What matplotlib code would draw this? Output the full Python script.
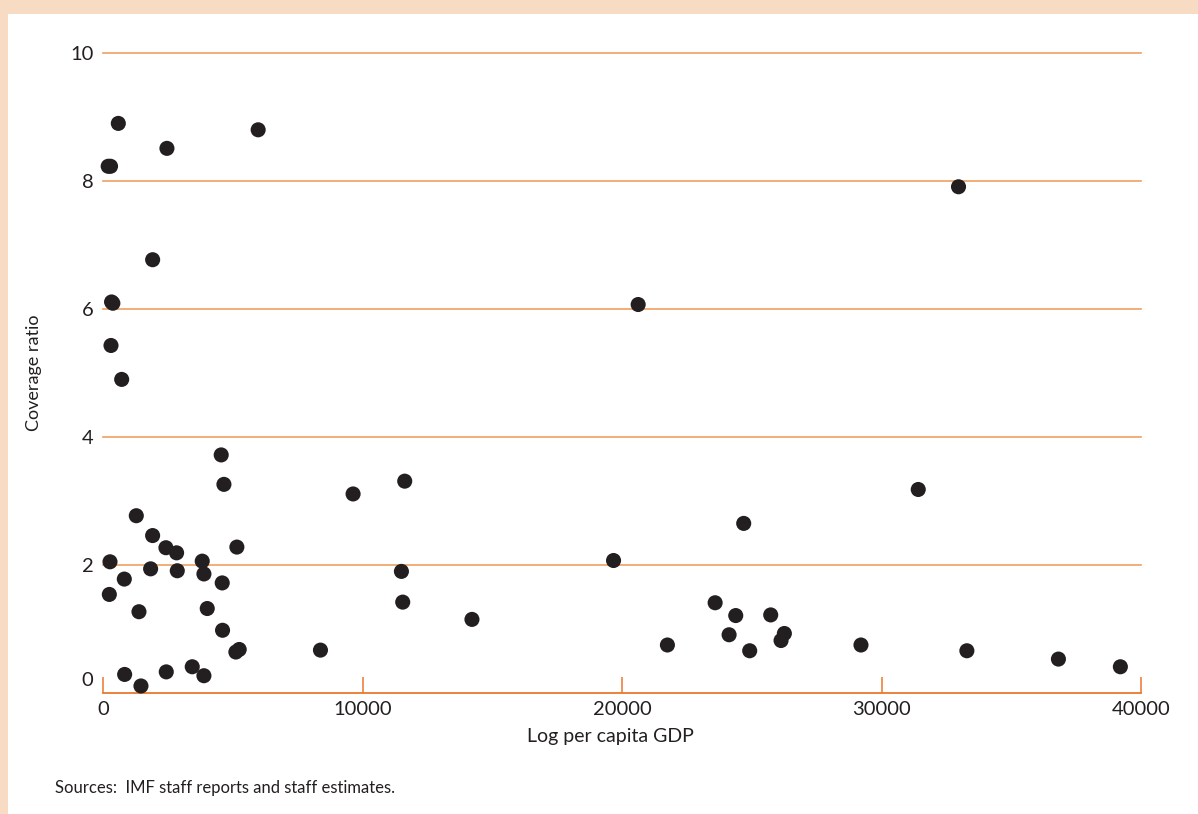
import matplotlib
matplotlib.use("Agg")
import matplotlib.pyplot as plt
import matplotlib.transforms as mtransforms
from matplotlib.patches import Rectangle

gdp = [200, 290, 590, 2464, 5979, 1913, 330, 380, 308, 720,
       4555, 4660, 9637, 1283, 1912, 2425, 2836, 5159, 270, 3824,
       1835, 2862, 3889, 821, 4594, 244, 1386, 4017, 4607, 5249,
       5120, 8380, 834, 1463, 2438, 3439, 3889, 11627, 11500, 11550,
       14218, 19674, 20623, 21750, 23589, 24383, 24690, 25731, 24127, 26257,
       26129, 24921, 29209, 31416, 32968, 33290, 36818, 39205]
coverage = [8.23, 8.23, 8.90, 8.51, 8.80, 6.77, 6.11, 6.09, 5.43, 4.90,
            3.72, 3.26, 3.11, 2.77, 2.46, 2.27, 2.19, 2.28, 2.05, 2.06,
            1.94, 1.91, 1.86, 1.78, 1.72, 1.54, 1.27, 1.32, 0.98, 0.68,
            0.64, 0.67, 0.29, 0.11, 0.33, 0.41, 0.27, 3.31, 1.90, 1.42,
            1.15, 2.07, 6.07, 0.75, 1.41, 1.21, 2.65, 1.22, 0.91, 0.93,
            0.82, 0.66, 0.75, 3.18, 7.91, 0.66, 0.53, 0.41]

x_ticks = [0, 10000, 20000, 30000, 40000]
y_ticks = [0, 2, 4, 6, 8, 10]
x_label = "Log per capita GDP"
y_label = "Coverage ratio"
source_note = "Sources:  IMF staff reports and staff estimates."

FONT = ["Lato", "DejaVu Sans"]
plt.rcParams["font.family"] = FONT

PEACH = "#F7DBC3"
GRID = "#F0A060"
SPINE = "#E8782E"
TEXT = "#231F20"

fig = plt.figure(figsize=(11.98, 8.14), dpi=100)
fig.patch.set_facecolor("white")
# peach frame strips (top and left)
fig.add_artist(Rectangle((0, 1 - 14 / 814), 1, 14 / 814, transform=fig.transFigure,
                         facecolor=PEACH, edgecolor="none", zorder=0))
fig.add_artist(Rectangle((0, 0), 8 / 1198, 1, transform=fig.transFigure,
                         facecolor=PEACH, edgecolor="none", zorder=0))

ax = fig.add_axes([103 / 1198, (814 - 693) / 814, (1141 - 103) / 1198, (693 - 53) / 814])
ax.set_facecolor("none")
ax.set_xlim(0, 40000)
ax.set_ylim(0, 10)

for v in y_ticks[1:]:
    ax.axhline(v, color=GRID, lw=1.2, zorder=1, clip_on=False)

ax.scatter(gdp, coverage, s=118, color=TEXT, edgecolors="none", zorder=3, clip_on=False)

for side in ["top", "right", "left"]:
    ax.spines[side].set_visible(False)
ax.spines["bottom"].set_color(SPINE)
ax.spines["bottom"].set_linewidth(1.3)

ax.set_xticks(x_ticks)
ax.set_xticklabels([str(t) for t in x_ticks])
ax.tick_params(axis="x", direction="in", length=11.5, width=1.1, color=SPINE,
               labelsize=14.5, labelcolor=TEXT, pad=6)
ax.set_yticks(y_ticks)
ax.set_yticklabels([str(t) for t in y_ticks])
ax.tick_params(axis="y", length=0, labelsize=14.5, labelcolor=TEXT, pad=7)

# lift the "0" label above the x axis
lbl0 = ax.get_yticklabels()[0]
lbl0.set_transform(lbl0.get_transform() +
                   mtransforms.ScaledTranslation(0, 14 / 100, fig.dpi_scale_trans))

ax.set_xlabel(x_label, fontsize=14, color=TEXT, labelpad=6)
ax.xaxis.set_label_coords(0.489, -0.055)
ax.set_ylabel(y_label, fontsize=13, color=TEXT, labelpad=20)

fig.text(55 / 1198, 1 - 788 / 814, source_note, fontsize=12, color=TEXT,
         ha="left", va="center")

fig.savefig("out.png", dpi=100)
